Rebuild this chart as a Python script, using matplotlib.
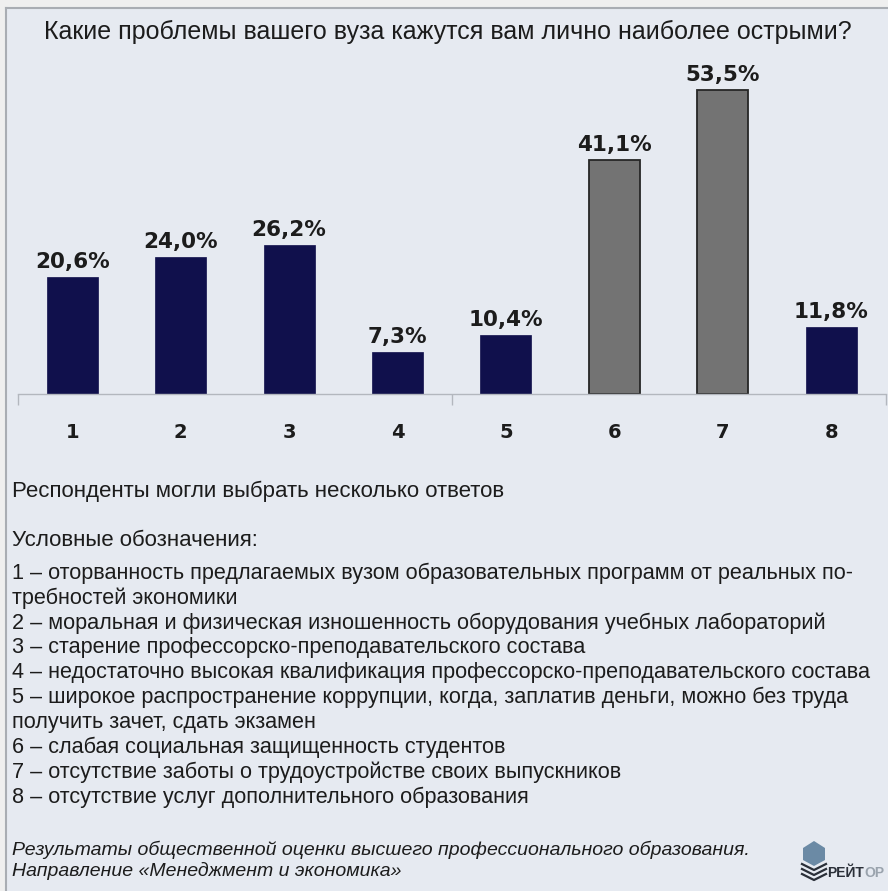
import numpy as np
import matplotlib.pyplot as plt
from matplotlib.patches import Rectangle, Polygon
from matplotlib.lines import Line2D

# ---------------- data
categories = ['1', '2', '3', '4', '5', '6', '7', '8']
values = [20.6, 24.0, 26.2, 7.3, 10.4, 41.1, 53.5, 11.8]
value_labels = ['20,6%', '24,0%', '26,2%', '7,3%', '10,4%', '41,1%', '53,5%', '11,8%']
gray_bars = [False, False, False, False, False, True, True, False]

title = 'Какие проблемы вашего вуза кажутся вам лично наиболее острыми?'
note = 'Респонденты могли выбрать несколько ответов'
legend_head = 'Условные обозначения:'
legend_lines = [
    '1 – оторванность предлагаемых вузом образовательных программ от реальных по-',
    'требностей экономики',
    '2 – моральная и физическая изношенность оборудования учебных лабораторий',
    '3 – старение профессорско-преподавательского состава',
    '4 – недостаточно высокая квалификация профессорско-преподавательского состава',
    '5 – широкое распространение коррупции, когда, заплатив деньги, можно без труда',
    'получить зачет, сдать экзамен',
    '6 – слабая социальная защищенность студентов',
    '7 – отсутствие заботы о трудоустройстве своих выпускников',
    '8 – отсутствие услуг дополнительного образования',
]
source_lines = [
    'Результаты общественной оценки высшего профессионального образования.',
    'Направление «Менеджмент и экономика»',
]

# ---------------- figure (work in pixels)
W, H = 888, 891
fig = plt.figure(figsize=(W / 100, H / 100), dpi=100)
fig.patch.set_facecolor('#efefef')

def fx(px):
    return px / W

def fy(py):
    return 1 - py / H

# panel background + frame
fig.add_artist(Rectangle((fx(6), 0), 1, fy(8), transform=fig.transFigure,
                         facecolor='#e6eaf1', edgecolor='none', zorder=0))
fig.add_artist(Line2D([fx(6), 1], [fy(8), fy(8)], transform=fig.transFigure,
                      color='#a9adb3', lw=1.5))
fig.add_artist(Line2D([fx(6), fx(6)], [0, fy(8)], transform=fig.transFigure,
                      color='#a9adb3', lw=1.5))

# ---------------- chart
ymax = 60
base_px, px_per_pct = 394, 5.69
ax = fig.add_axes([fx(18), fy(base_px), fx(885.5) - fx(18), ymax * px_per_pct / H])
ax.set_facecolor('none')
ax.set_xlim(-0.5, 7.5)
ax.set_ylim(0, ymax)

x = np.arange(len(values))
for i in x:
    if gray_bars[i]:
        ax.bar(i, values[i], width=0.47, color='#737373', edgecolor='#262626', linewidth=1.3)
    else:
        ax.bar(i, values[i], width=0.47, color='#10104c', edgecolor='#10104c', linewidth=0.5)
    ax.annotate(value_labels[i], (i, values[i]), xytext=(0, 9), textcoords='offset pixels',
                ha='center', va='baseline', fontsize=15.5, fontweight='bold',
                family='DejaVu Sans', color='#1c1c1c')
    ax.annotate(categories[i], (i, 0), xytext=(0, -38), textcoords='offset pixels',
                ha='center', va='center', fontsize=14, fontweight='bold',
                family='DejaVu Sans', color='#1c1c1c', annotation_clip=False)

for s in ['top', 'right', 'left']:
    ax.spines[s].set_visible(False)
ax.spines['bottom'].set_color('#b3b7be')
ax.spines['bottom'].set_linewidth(1.0)
ax.set_yticks([])
ax.set_xticks([])
ax.set_xticks([-0.5, 3.5, 7.5], minor=True)
ax.tick_params(axis='x', which='minor', length=8, width=1.0, color='#b3b7be', labelbottom=False)

# ---------------- texts
txt = dict(family='Liberation Sans', color='#1c1c1c', va='center')
fig.text(fx(448), fy(32), title, ha='center', fontsize=18, **txt)
fig.text(fx(12), fy(491), note, fontsize=16, **txt)
fig.text(fx(12), fy(541), legend_head, fontsize=16, **txt)
for k, line in enumerate(legend_lines):
    fig.text(fx(12), fy(573 + k * 24.9), line, fontsize=15.6, **txt)
for k, line in enumerate(source_lines):
    fig.text(fx(12), fy(850 + k * 21), line, fontsize=14, style='italic', **txt)

# ---------------- logo
fig.add_artist(Polygon([(fx(803), fy(848)), (fx(814), fy(841)), (fx(825), fy(848)),
                        (fx(825), fy(860)), (fx(814), fy(866)), (fx(803), fy(860))],
                       closed=True, transform=fig.transFigure,
                       facecolor='#6b8aa5', edgecolor='none'))
for dy in (864, 869, 874):
    fig.add_artist(Line2D([fx(802), fx(814), fx(826)], [fy(dy), fy(dy + 6), fy(dy)],
                          transform=fig.transFigure, color='#2a2f38', lw=1.6))
fig.text(fx(827), fy(873), 'РЕЙТ', fontsize=10, fontweight='bold', family='Liberation Sans',
         color='#2a2f38', va='center', ha='left')
fig.text(fx(884), fy(873), 'ОР', fontsize=10, fontweight='bold', family='Liberation Sans',
         color='#9aa3ad', va='center', ha='right')

fig.savefig('out.png', dpi=100, facecolor=fig.get_facecolor())
